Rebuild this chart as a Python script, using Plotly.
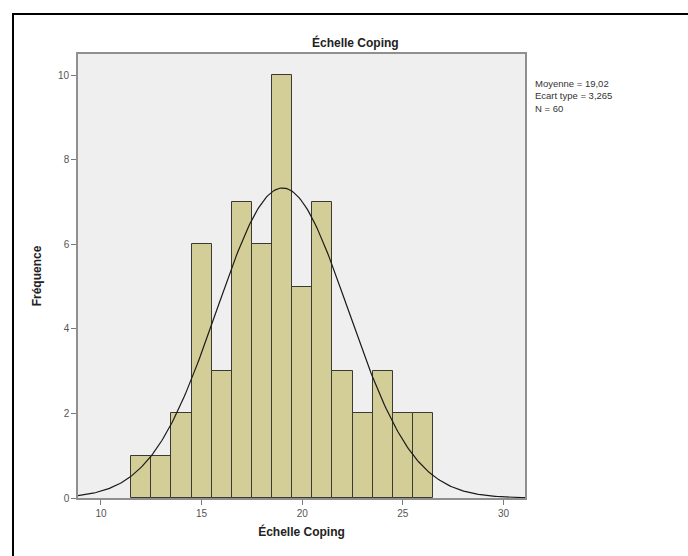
import numpy as np
import plotly.graph_objects as go

# Histogram of the coping scale scores (bin width 1)
bin_centers = [12, 13, 14, 15, 16, 17, 18, 19, 20, 21, 22, 23, 24, 25, 26]
frequencies = [1, 1, 2, 6, 3, 7, 6, 10, 5, 7, 3, 2, 3, 2, 2]

mean_value = 19.02
std_value = 3.265
n_obs = 60
bin_width = 1

x_ticks = [10, 15, 20, 25, 30]
y_ticks = [0, 2, 4, 6, 8, 10]
x_range = [8.86, 31.07]
y_range = [0, 10.5]

# Fitted normal curve scaled to counts
xs = np.linspace(x_range[0], x_range[1], 300)
ys = n_obs * bin_width / (std_value * np.sqrt(2 * np.pi)) * np.exp(-0.5 * ((xs - mean_value) / std_value) ** 2)

fig = go.Figure()
fig.add_trace(go.Bar(
    x=bin_centers, y=frequencies, width=bin_width,
    marker=dict(color="#D3CE97", line=dict(color="#3a3a30", width=1)),
    hoverinfo="x+y", showlegend=False,
))
fig.add_trace(go.Scatter(
    x=xs, y=ys, mode="lines", line=dict(color="#1a1a1a", width=1.2),
    hoverinfo="skip", showlegend=False,
))

font_family = "Liberation Sans, Arial, sans-serif"
axis_common = dict(
    showgrid=False, zeroline=False, showline=True, mirror=True,
    linecolor="#8f8f8f", linewidth=1.6,
    ticks="outside", ticklen=5, tickcolor="#7a7a7a", tickwidth=1,
    tickfont=dict(family=font_family, size=10, color="#555555"),
)

fig.update_layout(
    width=688, height=556,
    margin=dict(l=78, r=163, t=54, b=58),
    paper_bgcolor="white", plot_bgcolor="#EFEFEF",
    bargap=0,
    xaxis=dict(range=x_range, tickvals=x_ticks, ticktext=[str(v) for v in x_ticks],
               title=dict(text="<b>Échelle Coping</b>", standoff=10,
                          font=dict(family=font_family, size=12, color="#222222")),
               **axis_common),
    yaxis=dict(range=y_range, tickvals=y_ticks, ticktext=[str(v) for v in y_ticks],
               title=dict(text="<b>Fréquence</b>", standoff=14,
                          font=dict(family=font_family, size=12, color="#222222")),
               **axis_common),
    showlegend=False,
)

# Chart title
fig.add_annotation(
    text="<b>Échelle Coping</b>", xref="paper", yref="paper",
    x=(355 - 78) / 447, y=(498 - 42) / 444, xanchor="center", yanchor="middle",
    showarrow=False, font=dict(family=font_family, size=12, color="#222222"),
)

# Summary statistics
stats_text = (f"Moyenne = {mean_value:.2f}".replace(".", ",") + "<br>" +
              f"Ecart type = {std_value:.3f}".replace(".", ",") + "<br>" +
              f"N = {n_obs}")
fig.add_annotation(
    text=stats_text, xref="paper", yref="paper",
    x=(533 - 78) / 447, y=(498 - 76) / 444, xanchor="left", yanchor="top",
    align="left", showarrow=False,
    font=dict(family=font_family, size=9.5, color="#333333"),
)

# Outer frame around the chart
fig.add_shape(
    type="rect", xref="paper", yref="paper",
    x0=(13 - 78) / 447, x1=(720 - 78) / 447,
    y0=(498 - 600) / 444, y1=(498 - 14) / 444,
    line=dict(color="black", width=2), fillcolor="rgba(0,0,0,0)", layer="below",
)

fig.write_html("out.html")
